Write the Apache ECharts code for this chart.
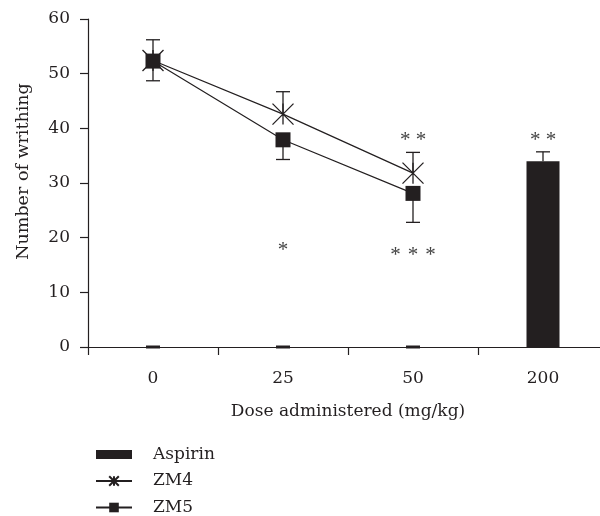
<!DOCTYPE html>
<html><head><meta charset="utf-8">
<script src="https://cdn.jsdelivr.net/npm/echarts@6/dist/echarts.min.js"></script>
<style>html,body{margin:0;padding:0;background:#fff}#c{width:600px;height:516px}</style>
</head><body><div id="c"></div>
<script>
var categories = ['0', '25', '50', '200'];
var aspirin = [0, 0, 0, 34.0];
var aspirinErrUpper = [0, 0, 0, 35.7];
var zm4 = [52.4, 42.6, 31.8, null];
var zm4ErrUpper = [56.2, 46.7, 35.6, null];
var zm5 = [52.3, 37.9, 28.1, null];
var zm5ErrLower = [48.7, 34.3, 22.8, null];
var yTicks = [0, 10, 20, 30, 40, 50, 60];
// significance marks: [category index, y value, text]
var sigMarks = [[1, 17.6, '*'], [2, 16.7, '*\u2004*\u2004*'], [2, 37.8, '* *'], [3, 37.8, '* *']];

var ink = '#231f20';
var font = 'DejaVu Serif';
var fs = 17;

function errData(means, ends) {
  var out = [];
  for (var i = 0; i < means.length; i++) {
    if (means[i] != null && ends[i] != null) out.push([i, means[i], ends[i]]);
  }
  return out;
}
var errAll = errData(aspirin, aspirinErrUpper).concat(errData(zm4, zm4ErrUpper)).concat(errData(zm5, zm5ErrLower));

var starPath = 'path://M10,0L10,20M0,0L20,20M0,20L20,0';

var chart = echarts.init(document.getElementById('c'), null, {renderer: 'canvas'});
chart.setOption({
  animation: false,
  backgroundColor: '#fff',
  textStyle: {fontFamily: font, color: ink},
  grid: {left: 88, top: 19, height: 328, width: 520, containLabel: false, outerBoundsMode: 'none'},
  legend: {
    orient: 'vertical', left: 95, top: 446, height: 90, padding: 0,
    itemWidth: 36, itemHeight: 12, itemGap: 9.5,
    textStyle: {fontFamily: font, fontSize: fs, color: ink, padding: [0, 0, 0, 16]},
    data: [
      {name: 'Aspirin', icon: 'path://M0,0L0,0M0,1.5L36,1.5L36,10.5L0,10.5ZM36,12L36,12', itemStyle: {color: ink}},
      {name: 'ZM4'},
      {name: 'ZM5'}
    ]
  },
  xAxis: {
    type: 'category', data: categories, boundaryGap: true,
    name: 'Dose administered (mg/kg)', nameLocation: 'middle', nameGap: 56,
    nameTextStyle: {fontFamily: font, fontSize: fs, color: ink},
    axisLine: {lineStyle: {color: ink, width: 1.2}},
    axisTick: {show: true, length: 8, inside: false, lineStyle: {color: ink, width: 1.2}},
    axisLabel: {fontFamily: font, fontSize: fs, color: ink, margin: 23},
    splitLine: {show: false}
  },
  yAxis: {
    type: 'value', min: yTicks[0], max: yTicks[yTicks.length - 1], interval: 10,
    name: 'Number of writhing', nameLocation: 'middle', nameGap: 56,
    nameTextStyle: {fontFamily: font, fontSize: 17.5, color: ink, padding: [0, 0, 0, 23]},
    axisLine: {show: true, lineStyle: {color: ink, width: 1.2}},
    axisTick: {show: true, length: 8, lineStyle: {color: ink, width: 1.2}},
    axisLabel: {fontFamily: font, fontSize: fs, color: ink, margin: 18},
    splitLine: {show: false}
  },
  series: [
    {
      name: 'Aspirin', type: 'bar', data: aspirin, barWidth: 33,
      itemStyle: {color: ink}, z: 2
    },
    {
      name: 'ZM4', type: 'line', data: zm4, symbol: starPath, symbolSize: [21, 21],
      lineStyle: {color: ink, width: 1.2},
      itemStyle: {color: 'rgba(0,0,0,0)', borderColor: ink, borderWidth: 1.3},
      z: 3
    },
    {
      name: 'ZM5', type: 'line', data: zm5, symbol: 'rect', symbolSize: 15,
      lineStyle: {color: ink, width: 1.2},
      itemStyle: {color: ink}, z: 4
    },
    {
      name: 'err', type: 'custom', data: errAll, z: 1,
      renderItem: function (params, api) {
        var c = api.value(0);
        var p1 = api.coord([c, api.value(1)]);
        var p2 = api.coord([c, api.value(2)]);
        var hw = 7;
        var capW = api.value(2) === 0 ? 3 : 1.3;
        return {type: 'group', children: [
          {type: 'line', shape: {x1: p1[0], y1: p1[1], x2: p2[0], y2: p2[1]}, style: {stroke: ink, lineWidth: 1.3}},
          {type: 'line', shape: {x1: p2[0] - hw, y1: p2[1], x2: p2[0] + hw, y2: p2[1]}, style: {stroke: ink, lineWidth: capW}}
        ]};
      }
    },
    {
      name: 'sig', type: 'custom', data: sigMarks.map(function (m) { return [m[0], m[1]]; }),
      renderItem: function (params, api) {
        var p = api.coord([api.value(0), api.value(1)]);
        return {type: 'text', x: p[0], y: p[1], style: {
          text: sigMarks[params.dataIndex][2], fontFamily: 'Liberation Serif', fontSize: 21, fill: '#444',
          align: 'center', verticalAlign: 'middle'
        }};
      }
    }
  ]
});
</script></body></html>
